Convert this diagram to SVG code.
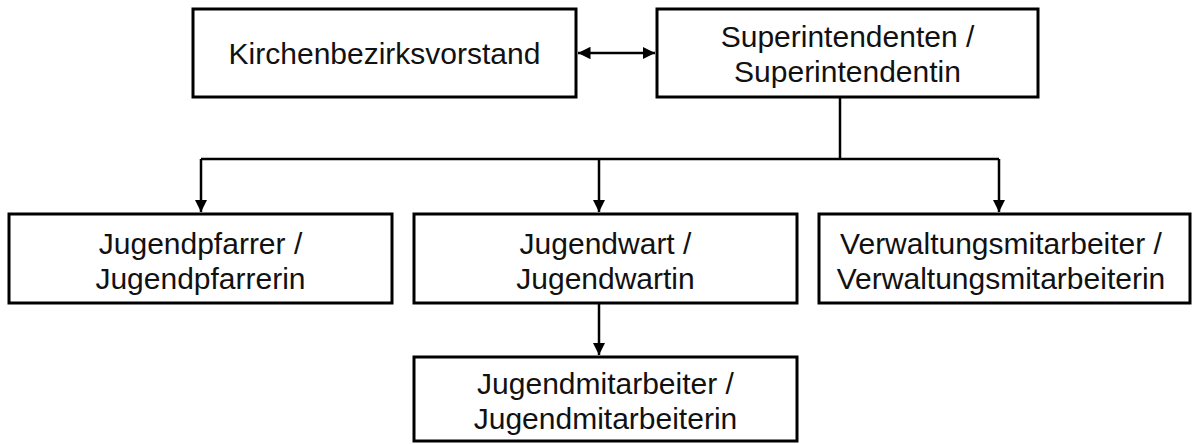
<svg xmlns="http://www.w3.org/2000/svg" width="1197" height="444" viewBox="0 0 1197 444">
<defs>
<style>
.box{fill:#fff;stroke:#000;stroke-width:3}
.t{font-family:"Liberation Sans",Arial,sans-serif;font-size:30px;fill:#111;text-anchor:middle}
.c{fill:none;stroke:#000;stroke-width:2.5}
</style>
<marker id="ah" viewBox="0 0 10 10" refX="10" refY="5" markerWidth="5" markerHeight="5" orient="auto-start-reverse" markerUnits="strokeWidth">
<path d="M0,0 L10,5 L0,10 z" fill="#000"/>
</marker>
</defs>
<rect width="1197" height="444" fill="#fff"/>
<g id="connectors">
<line class="c" x1="578" y1="53" x2="655" y2="53" marker-start="url(#ah)" marker-end="url(#ah)"/>
<polyline class="c" points="840,97 840,159"/>
<polyline class="c" points="201,159 999,159"/>
<line class="c" x1="201" y1="159" x2="201" y2="212" marker-end="url(#ah)"/>
<line class="c" x1="599" y1="159" x2="599" y2="212" marker-end="url(#ah)"/>
<line class="c" x1="999" y1="159" x2="999" y2="212" marker-end="url(#ah)"/>
<line class="c" x1="599" y1="303" x2="599" y2="355" marker-end="url(#ah)"/>
</g>
<g id="n1"><rect class="box" x="193" y="9" width="383" height="88"/><text class="t" x="384.5" y="64">Kirchenbezirksvorstand</text></g>
<g id="n2"><rect class="box" x="657" y="9" width="381" height="88"/><text class="t" x="847.5" y="47">Superintendenten /</text><text class="t" x="847.5" y="82">Superintendentin</text></g>
<g id="n3"><rect class="box" x="9" y="214" width="383" height="89"/><text class="t" x="200.5" y="254">Jugendpfarrer /</text><text class="t" x="200.5" y="289">Jugendpfarrerin</text></g>
<g id="n4"><rect class="box" x="414" y="214" width="383" height="89"/><text class="t" x="605.5" y="254">Jugendwart /</text><text class="t" x="605.5" y="289">Jugendwartin</text></g>
<g id="n5"><rect class="box" x="819" y="214" width="371" height="89"/><text class="t" x="1001" y="254">Verwaltungsmitarbeiter /</text><text class="t" x="1001" y="289">Verwaltungsmitarbeiterin</text></g>
<g id="n6"><rect class="box" x="414" y="357" width="383" height="84"/><text class="t" x="605.5" y="394">Jugendmitarbeiter /</text><text class="t" x="605.5" y="429">Jugendmitarbeiterin</text></g>
</svg>
